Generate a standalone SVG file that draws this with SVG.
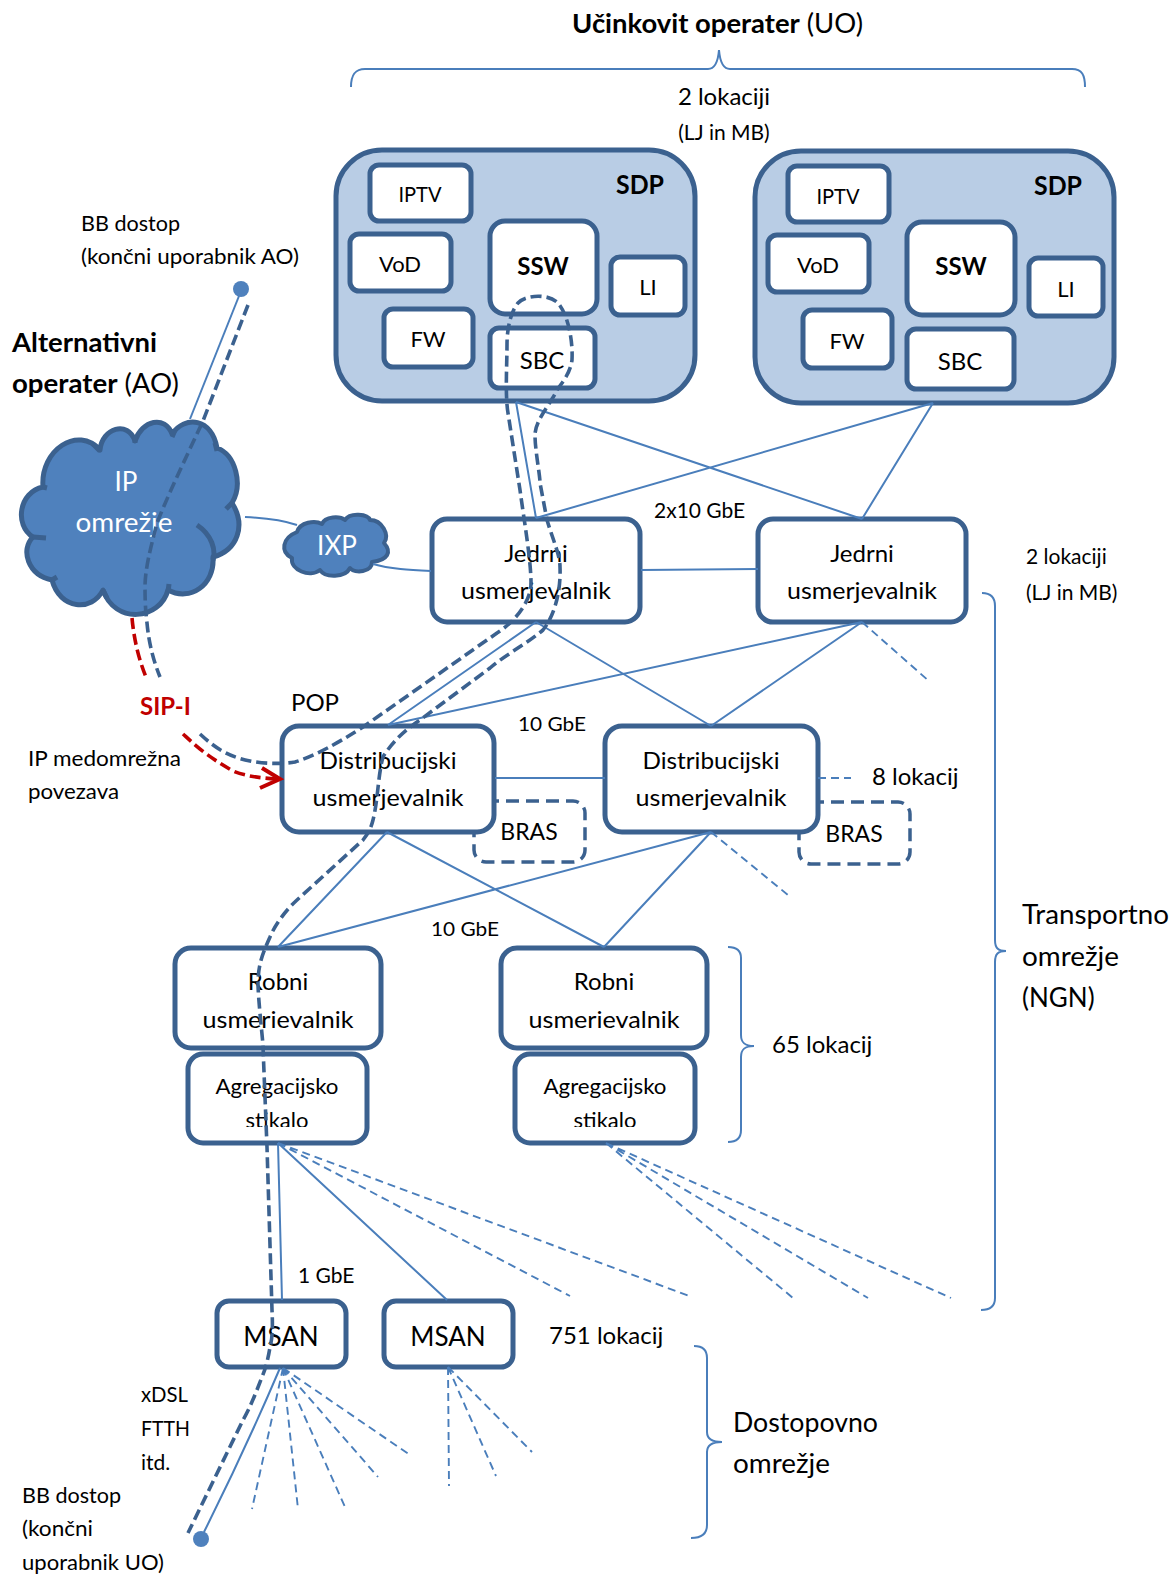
<svg xmlns="http://www.w3.org/2000/svg" width="1172" height="1574" viewBox="0 0 1172 1574">
<style>
text{font-family:Lato,"Liberation Sans",sans-serif;fill:#000}
.m{text-anchor:middle}
.b{font-weight:700}
.s20{font-size:20px}.s21{font-size:21px}.s22{font-size:22px}.s23{font-size:23px}.s24{font-size:24px}.s26{font-size:26px}.s28{font-size:26px}
.w{fill:#fff}
.box{fill:#fff;stroke:#3B618F;stroke-width:5}
.sdp{fill:#B9CDE5;stroke:#3B618F;stroke-width:5}
.dbox{fill:#fff;stroke:#3B618F;stroke-width:3.5;stroke-dasharray:13 7}
.cl{fill:#4F81BD;stroke:#3B618F;stroke-width:5;stroke-linejoin:round}
.in{fill:none;stroke:#3B618F;stroke-width:5}
.t{fill:none;stroke:#4A7EBB;stroke-width:2}
.td{fill:none;stroke:#4A7EBB;stroke-width:1.9;stroke-dasharray:8 5}
.dk{fill:none;stroke:#3B618F;stroke-width:3.6;stroke-dasharray:11 5}
.rd{fill:none;stroke:#C00000;stroke-width:3.6;stroke-dasharray:11 5}
.dot{fill:#4F81BD}
</style>
<defs>
<clipPath id="c1"><rect x="175" y="950" width="535" height="78"/></clipPath>
<clipPath id="c2"><rect x="188" y="1056" width="510" height="71"/></clipPath>
</defs>

<g id="labels">
<text x="572" y="33" class="s26" textLength="291" lengthAdjust="spacingAndGlyphs"><tspan class="b">Učinkovit operater</tspan> (UO)</text>
<text x="724" y="105" class="s24 m">2 lokaciji</text>
<text x="724" y="140" class="s21 m">(LJ in MB)</text>
<text x="81" y="231" class="s21" textLength="99" lengthAdjust="spacingAndGlyphs">BB dostop</text>
<text x="81" y="264" class="s21" textLength="218" lengthAdjust="spacingAndGlyphs">(končni uporabnik AO)</text>
<text x="12" y="352" class="s26 b" textLength="145" lengthAdjust="spacingAndGlyphs">Alternativni</text>
<text x="12" y="393" class="s26" textLength="167" lengthAdjust="spacingAndGlyphs"><tspan class="b">operater</tspan> (AO)</text>
<text x="654" y="518" class="s21">2x10 GbE</text>
<text x="1026" y="564" class="s21">2 lokaciji</text>
<text x="1026" y="600" class="s21">(LJ in MB)</text>
<text x="291" y="711" class="s24">POP</text>
<text x="518" y="731" class="s20" textLength="68" lengthAdjust="spacingAndGlyphs">10 GbE</text>
<text x="140" y="715" class="s24 b" style="fill:#C00000">SIP-I</text>
<text x="28" y="766" class="s21" textLength="153" lengthAdjust="spacingAndGlyphs">IP medomrežna</text>
<text x="28" y="799" class="s21" textLength="91" lengthAdjust="spacingAndGlyphs">povezava</text>
<text x="872" y="785" class="s24">8 lokacij</text>
<text x="431" y="936" class="s20" textLength="68" lengthAdjust="spacingAndGlyphs">10 GbE</text>
<text x="1022" y="924" class="s26" textLength="147" lengthAdjust="spacingAndGlyphs">Transportno</text>
<text x="1022" y="966" class="s26" textLength="97" lengthAdjust="spacingAndGlyphs">omrežje</text>
<text x="1022" y="1007" class="s26">(NGN)</text>
<text x="772" y="1053" class="s24">65 lokacij</text>
<text x="298" y="1283" class="s21">1 GbE</text>
<text x="549" y="1344" class="s24">751 lokacij</text>
<text x="141" y="1402" class="s21" textLength="47" lengthAdjust="spacingAndGlyphs">xDSL</text>
<text x="141" y="1436" class="s21" textLength="49" lengthAdjust="spacingAndGlyphs">FTTH</text>
<text x="141" y="1470" class="s21">itd.</text>
<text x="22" y="1503" class="s21" textLength="99" lengthAdjust="spacingAndGlyphs">BB dostop</text>
<text x="22" y="1536" class="s21" textLength="71" lengthAdjust="spacingAndGlyphs">(končni</text>
<text x="22" y="1570" class="s21" textLength="142" lengthAdjust="spacingAndGlyphs">uporabnik UO)</text>
<text x="733" y="1432" class="s26" textLength="145" lengthAdjust="spacingAndGlyphs">Dostopovno</text>
<text x="733" y="1473" class="s26" textLength="97" lengthAdjust="spacingAndGlyphs">omrežje</text>
</g>

<g id="sdp1">
<rect x="336" y="150" width="359" height="251" rx="46" class="sdp"/>
<text x="640" y="194" class="s26 b m" textLength="48" lengthAdjust="spacingAndGlyphs">SDP</text>
<g id="sdp1-iptv"><rect x="370" y="165" width="101" height="56" rx="9" class="box"/><text x="420" y="202" class="s22 m" textLength="43" lengthAdjust="spacingAndGlyphs">IPTV</text></g>
<g id="sdp1-vod"><rect x="350" y="234" width="101" height="57" rx="9" class="box"/><text x="400" y="272" class="s22 m">VoD</text></g>
<g id="sdp1-ssw"><rect x="490" y="221" width="107" height="93" rx="15" class="box"/><text x="543" y="275" class="s24 b m">SSW</text></g>
<g id="sdp1-li"><rect x="611" y="257" width="74" height="58" rx="9" class="box"/><text x="648" y="295" class="s22 m">LI</text></g>
<g id="sdp1-fw"><rect x="384" y="309" width="89" height="58" rx="9" class="box"/><text x="428" y="347" class="s22 m">FW</text></g>
<g id="sdp1-sbc"><rect x="490" y="328" width="105" height="60" rx="9" class="box"/><text x="542" y="369" class="s24 m">SBC</text></g>
</g>

<g id="sdp2">
<rect x="755" y="151" width="359" height="252" rx="46" class="sdp"/>
<text x="1058" y="195" class="s26 b m" textLength="48" lengthAdjust="spacingAndGlyphs">SDP</text>
<g id="sdp2-iptv"><rect x="788" y="166" width="101" height="56" rx="9" class="box"/><text x="838" y="204" class="s22 m" textLength="43" lengthAdjust="spacingAndGlyphs">IPTV</text></g>
<g id="sdp2-vod"><rect x="768" y="235" width="101" height="57" rx="9" class="box"/><text x="818" y="273" class="s22 m">VoD</text></g>
<g id="sdp2-ssw"><rect x="907" y="222" width="108" height="93" rx="15" class="box"/><text x="961" y="275" class="s24 b m">SSW</text></g>
<g id="sdp2-li"><rect x="1029" y="258" width="74" height="58" rx="9" class="box"/><text x="1066" y="297" class="s22 m">LI</text></g>
<g id="sdp2-fw"><rect x="803" y="310" width="89" height="58" rx="9" class="box"/><text x="847" y="349" class="s22 m">FW</text></g>
<g id="sdp2-sbc"><rect x="907" y="329" width="107" height="60" rx="9" class="box"/><text x="960" y="370" class="s24 m">SBC</text></g>
</g>

<g id="ip-cloud">
<path class="cl" d="M43,487 C40,450 78,425 100,450 C102,428 128,420 135,441 C142,420 165,415 172,434 C185,415 212,418 217,448 C236,455 243,485 232,503 C246,525 238,550 213,557 C215,585 190,602 168,590 C160,620 115,625 103,590 C92,612 60,610 52,580 C28,575 20,550 33,537 C14,525 19,492 43,487Z"/>
<path class="in" d="M197,525 C212,535 216,550 213,560 M100,451 l-7,-7 M135,443 v-7 M172,437 l3,-7 M217,451 l-2,-8 M232,503 l-6,6 M168,592 l1,-8 M103,590 l4,8 M52,580 l5,-3 M33,537 l13,1 M43,487 l4,1"/>
<text x="126" y="491" class="s26 m w">IP</text>
<text x="124" y="532" class="s26 m w" textLength="97" lengthAdjust="spacingAndGlyphs">omrežje</text>
</g>

<g id="ixp">
<path d="M297,532 C300,522 315,520 322,524 C325,516 340,516 345,520 C350,512 368,514 370,520 C382,520 390,535 384,543 C392,552 388,560 372,562 C372,572 355,574 350,568 C345,578 325,578 320,570 C310,578 290,570 292,558 C280,552 282,538 297,532Z" class="cl" style="stroke-width:4"/>
<text x="337" y="555" class="s26 m w">IXP</text>
</g>

<g id="jedrni1"><rect x="432" y="519" width="208" height="103" rx="15" class="box"/><text x="536" y="562" class="s24 m">Jedrni</text><text x="536" y="599" class="s24 m" textLength="150" lengthAdjust="spacingAndGlyphs">usmerjevalnik</text></g>
<g id="jedrni2"><rect x="758" y="519" width="208" height="103" rx="15" class="box"/><text x="862" y="562" class="s24 m">Jedrni</text><text x="862" y="599" class="s24 m" textLength="150" lengthAdjust="spacingAndGlyphs">usmerjevalnik</text></g>
<g id="bras1"><rect x="474" y="801" width="111" height="61" rx="12" class="dbox"/><text x="529" y="840" class="s23 m">BRAS</text></g>
<g id="bras2"><rect x="799" y="802" width="111" height="62" rx="12" class="dbox"/><text x="854" y="842" class="s23 m">BRAS</text></g>
<g id="dist1"><rect x="282" y="726" width="212" height="106" rx="17" class="box"/><text x="388" y="769" class="s24 m" textLength="137" lengthAdjust="spacingAndGlyphs">Distribucijski</text><text x="388" y="806" class="s24 m" textLength="151" lengthAdjust="spacingAndGlyphs">usmerjevalnik</text></g>
<g id="dist2"><rect x="605" y="726" width="213" height="106" rx="17" class="box"/><text x="711" y="769" class="s24 m" textLength="137" lengthAdjust="spacingAndGlyphs">Distribucijski</text><text x="711" y="806" class="s24 m" textLength="151" lengthAdjust="spacingAndGlyphs">usmerjevalnik</text></g>
<g id="robni1"><rect x="175" y="948" width="206" height="100" rx="16" class="box"/><g clip-path="url(#c1)"><text x="278" y="990" class="s24 m">Robni</text><text x="278" y="1028" class="s24 m" textLength="151" lengthAdjust="spacingAndGlyphs">usmerjevalnik</text></g></g>
<g id="robni2"><rect x="501" y="948" width="206" height="100" rx="16" class="box"/><g clip-path="url(#c1)"><text x="604" y="990" class="s24 m">Robni</text><text x="604" y="1028" class="s24 m" textLength="151" lengthAdjust="spacingAndGlyphs">usmerjevalnik</text></g></g>
<g id="agreg1"><rect x="188" y="1054" width="179" height="89" rx="15" class="box"/><g clip-path="url(#c2)"><text x="277" y="1094" class="s22 m" textLength="123" lengthAdjust="spacingAndGlyphs">Agregacijsko</text><text x="277" y="1128" class="s22 m">stikalo</text></g></g>
<g id="agreg2"><rect x="515" y="1054" width="180" height="89" rx="15" class="box"/><g clip-path="url(#c2)"><text x="605" y="1094" class="s22 m" textLength="123" lengthAdjust="spacingAndGlyphs">Agregacijsko</text><text x="605" y="1128" class="s22 m">stikalo</text></g></g>
<g id="msan1"><rect x="217" y="1301" width="129" height="66" rx="12" class="box"/><text x="281" y="1346" class="s28 m">MSAN</text></g>
<g id="msan2"><rect x="384" y="1301" width="129" height="66" rx="12" class="box"/><text x="448" y="1346" class="s28 m">MSAN</text></g>
<g id="ao-user"><circle cx="241" cy="289" r="8" class="dot"/></g>
<g id="uo-user"><circle cx="201" cy="1539" r="8" class="dot"/></g>

<g id="connectors">
<g id="solid">
<path class="t" d="M239,296 L190,419"/>
<path class="t" d="M245,517 C265,518 285,521 297,525 M373,564 C390,569 410,570 431,571"/>
<path class="t" d="M516,402 L536,518 M516,402 L862,519 M933,403 L536,518 M933,403 L862,519"/>
<path class="t" d="M641,570 L758,569"/>
<path class="t" d="M536,622 L388,725 M536,622 L711,726 M862,622 L388,725 M862,622 L711,726"/>
<path class="t" d="M495,778 L605,778"/>
<path class="t" d="M387,832 L278,947 M387,832 L604,947 M711,832 L278,947 M711,832 L604,947"/>
<path class="t" d="M278,1143 L282,1300 M278,1143 L447,1300"/>
<path class="t" d="M280,1368 C260,1415 235,1470 204,1532"/>
</g>
<g id="dashed">
<path class="td" d="M862,622 L930,682 M818,778 L851,778 M711,832 L788,895"/>
<path class="td" d="M278,1143 L692,1297 M278,1143 L570,1296"/>
<path class="td" d="M606,1143 L793,1298 M606,1143 L868,1298 M606,1143 L951,1298"/>
<path class="td" d="M283,1368 L252,1509 M283,1368 L298,1509 M283,1368 L345,1507 M283,1368 L378,1477 M283,1368 L410,1455"/>
<path class="td" d="M448,1367 L449,1486 M448,1367 L496,1476 M448,1367 L532,1452"/>
</g>
<g id="routes">
<path class="dk" d="M248,305 L203,421 C192,445 170,490 157,523 C150,550 145,570 145,587 C145,605 146,615 147,623 C149,645 154,662 160,677"/>
<path class="dk" d="M200,734 C212,745 225,756 250,761 C265,764 283,764 295,762 C312,757 335,745 363,727 L497,633 C510,625 531,605 531,583 C531,560 524,520 520,490 L508,413 C505,395 507,365 507,345 C507,325 512,310 518,303 C525,295 548,293 558,303 C568,315 573,340 572,360 C570,375 560,385 557,390 C552,402 535,420 535,435 C535,450 540,475 540,483 L547,520 C553,540 560,555 560,567 C561,590 555,615 543,630 C525,645 505,655 490,668 L420,720 C405,730 392,742 383,757 C378,775 378,800 373,820 C371,828 369,832 363,840 L297,900 C285,911 275,925 270,937 C262,955 258,965 258,985 C259,1010 263,1040 263,1047 L267,1147 L272,1310 C273,1330 272,1340 270,1347 C268,1360 265,1370 262,1377 C255,1395 250,1408 243,1420 L188,1533"/>
<path class="rd" d="M132,618 C134,640 139,660 146,677"/>
<path class="rd" d="M183,734 C195,745 205,755 233,771 C245,776 260,778 276,779"/>
<path d="M262,768 L280,779 L260,788" fill="none" stroke="#C00000" stroke-width="4"/>
</g>
<g id="braces">
<path class="t" d="M351,87 C351,75 355,69 365,69 L708,69 C715,69 718,62 719,50 C720,62 723,69 730,69 L1072,69 C1082,69 1085,75 1085,87"/>
<path class="t" d="M982,593 C991,593 995,597 995,606 L995,940 C995,948 998,951 1006,951 C998,951 995,954 995,962 L995,1298 C995,1306 991,1310 981,1310"/>
<path class="t" d="M728,947 C737,947 741,951 741,958 L741,1035 C741,1043 745,1046 754,1046 C745,1046 741,1049 741,1057 L741,1130 C741,1138 737,1142 728,1142"/>
<path class="t" d="M694,1346 C703,1346 707,1350 707,1358 L707,1432 C707,1439 712,1442 722,1442 C712,1442 707,1445 707,1452 L707,1525 C707,1533 703,1538 691,1538"/>
</g>
</g>
</svg>
